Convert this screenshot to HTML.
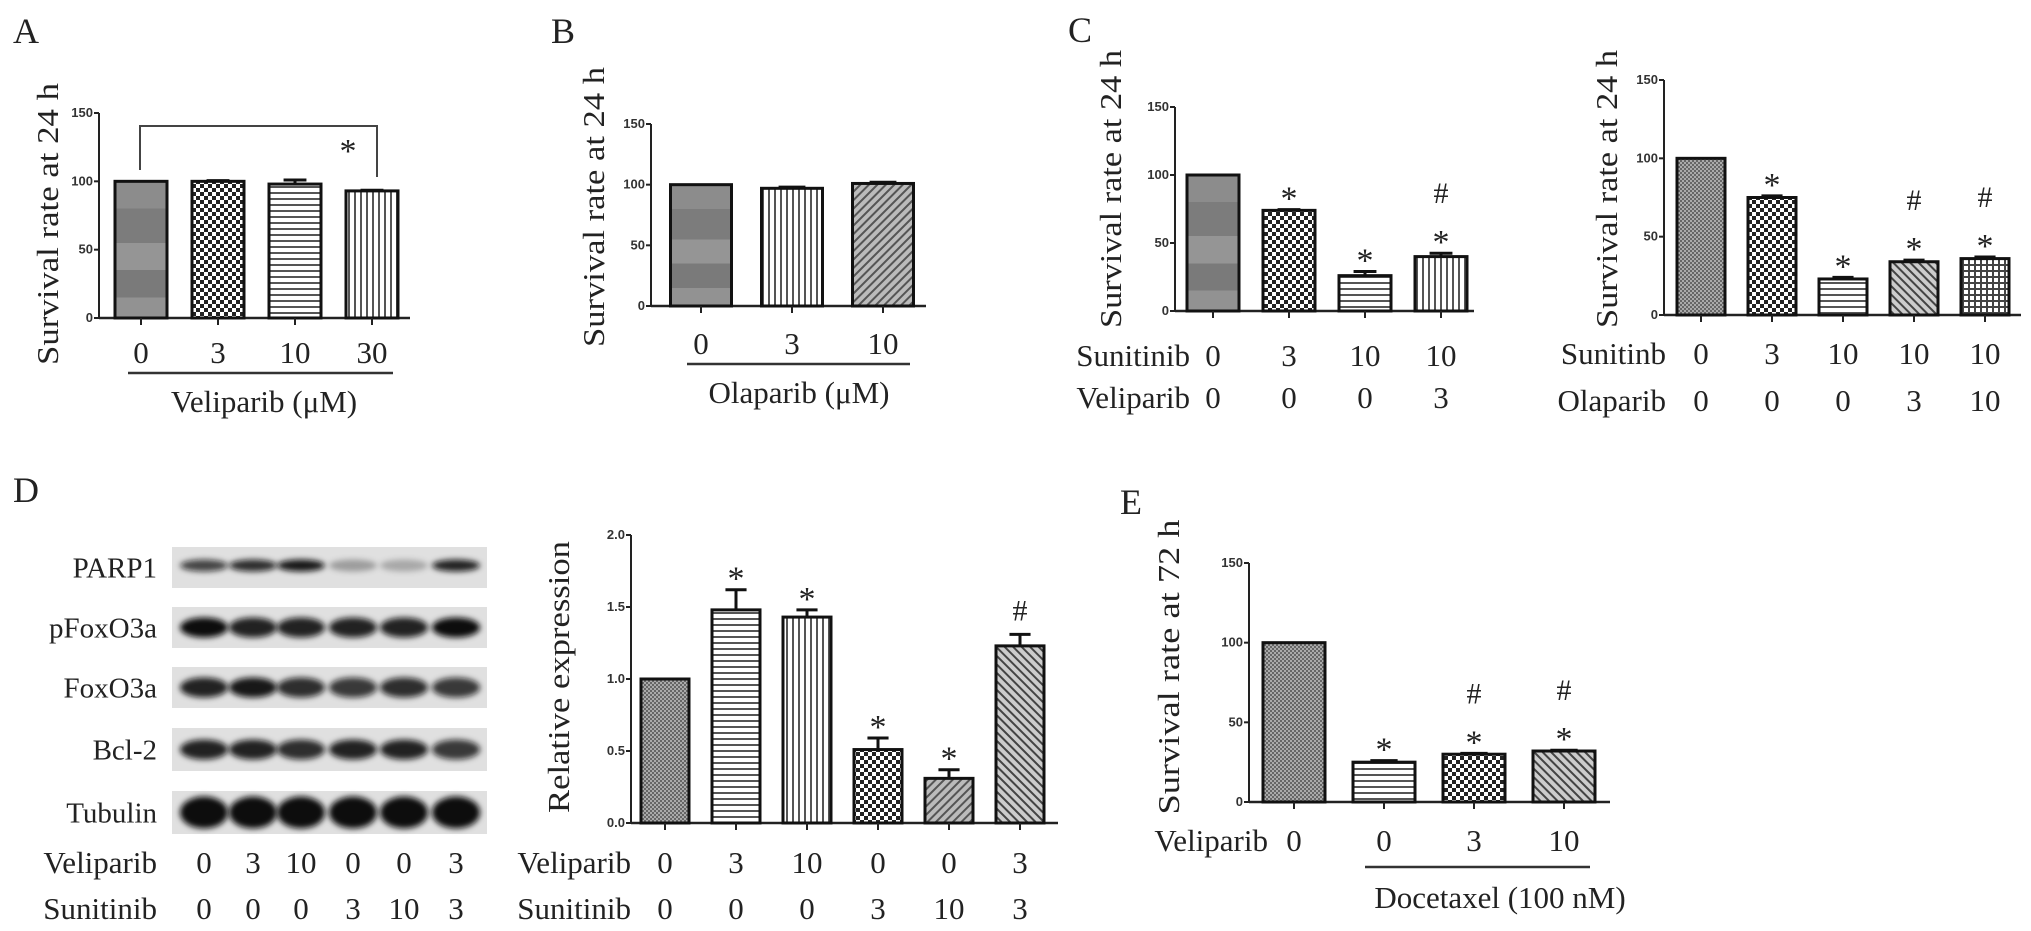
<!DOCTYPE html>
<html><head><meta charset="utf-8"><style>
html,body{margin:0;padding:0;background:#fff;}
svg{display:block;}
text{font-family:"Liberation Serif",serif;fill:#222;}
.tk{font-family:"Liberation Sans",sans-serif;font-weight:bold;font-size:13px;fill:#333;}
</style></head><body>
<svg id="fig" width="2031" height="931" viewBox="0 0 2031 931" xmlns="http://www.w3.org/2000/svg">
<defs>
<linearGradient id="gband" x1="0" y1="0" x2="0" y2="1">
<stop offset="0" stop-color="#8c8c8c"/><stop offset="0.2" stop-color="#8c8c8c"/><stop offset="0.2" stop-color="#7c7c7c"/><stop offset="0.45" stop-color="#7c7c7c"/><stop offset="0.45" stop-color="#959595"/><stop offset="0.65" stop-color="#959595"/><stop offset="0.65" stop-color="#7a7a7a"/><stop offset="0.85" stop-color="#7a7a7a"/><stop offset="0.85" stop-color="#929292"/><stop offset="1" stop-color="#929292"/>
</linearGradient>
<pattern id="checker" width="8" height="8" patternUnits="userSpaceOnUse"><rect width="8" height="8" fill="#fff"/><rect width="4" height="4" fill="#222"/><rect x="4" y="4" width="4" height="4" fill="#222"/></pattern>
<pattern id="fchk" width="4" height="4" patternUnits="userSpaceOnUse"><rect width="4" height="4" fill="#aaa"/><rect width="2" height="2" fill="#666"/><rect x="2" y="2" width="2" height="2" fill="#666"/></pattern>
<pattern id="hl" width="6" height="6" patternUnits="userSpaceOnUse"><rect width="6" height="6" fill="#fff"/><rect y="0" width="6" height="2" fill="#555"/></pattern>
<pattern id="vl" width="6" height="6" patternUnits="userSpaceOnUse"><rect width="6" height="6" fill="#fff"/><rect x="0" width="2" height="6" fill="#555"/></pattern>
<pattern id="dg" width="6" height="6" patternUnits="userSpaceOnUse" patternTransform="rotate(45)"><rect width="6" height="6" fill="#bbb"/><rect width="2" height="6" fill="#555"/></pattern>
<pattern id="dgb" width="6" height="6" patternUnits="userSpaceOnUse" patternTransform="rotate(-45)"><rect width="6" height="6" fill="#ccc"/><rect width="2" height="6" fill="#444"/></pattern>
<pattern id="grid" width="6" height="6" patternUnits="userSpaceOnUse"><rect width="6" height="6" fill="#fff"/><rect width="6" height="2" fill="#444"/><rect width="2" height="6" fill="#444"/></pattern>
<filter id="blur" x="-20%" y="-50%" width="140%" height="200%"><feGaussianBlur stdDeviation="3"/></filter>
</defs>
<g id="root"></g>
</svg>
<script>
// ---- data ----
const aCats=['0','3','10','30'];
const aVals=[100,100,98,93];
const aErr=[0,0.5,3,0.5];
const bCats=['0','3','10'];
const bVals=[100,97,101];
const bErr=[0,1,1];
const c1Vals=[100,74,26,40];
const c1Err=[0,0.5,3,2.5];
const c1Sun=['0','3','10','10'];
const c1Vel=['0','0','0','3'];
const c1Marks=['','*','*','#*'];
const c2Vals=[100,75,23,34,36];
const c2Err=[0,1,1,1,1];
const c2Sun=['0','3','10','10','10'];
const c2Ola=['0','0','0','3','10'];
const c2Marks=['','*','*','#*','#*'];
const dVals=[1.0,1.48,1.43,0.51,0.31,1.23];
const dErr=[0,0.14,0.05,0.08,0.06,0.08];
const dVel=['0','3','10','0','0','3'];
const dSun=['0','0','0','3','10','3'];
const dMarks=['','*','*','*','*','#'];
const eVals=[100,25,30,32];
const eErr=[0,1,0.5,0.5];
const eVel=['0','0','3','10'];
const eMarks=['','*','#*','#*'];
const survTicks=[0,50,100,150];
const dTicks=[0,0.5,1.0,1.5,2.0];
const blotRows=['PARP1','pFoxO3a','FoxO3a','Bcl-2','Tubulin'];
const blotIntensity=[[0.75,0.85,0.95,0.3,0.25,0.9],[1,0.9,0.9,0.9,0.9,1],[0.9,0.95,0.85,0.8,0.85,0.8],[0.9,0.9,0.85,0.9,0.9,0.8],[1,1,1,1,1,1]];

const NS='http://www.w3.org/2000/svg';
const root=document.getElementById('root');
function el(tag,attrs,parent,txt){const e=document.createElementNS(NS,tag);for(const k in attrs)e.setAttribute(k,attrs[k]);if(txt!==undefined)e.textContent=txt;(parent||root).appendChild(e);return e;}

function chart(o){
  const g=el('g',{});
  
  
  const ys=v=>o.y0-(v-o.ticks[0])/(o.ticks[o.ticks.length-1]-o.ticks[0])*(o.y0-o.yTop);
  const xs=i=>o.c0+i*o.step;
  const ax=el('line',{x1:o.ax,y1:o.yTop,x2:o.ax,y2:o.y0,stroke:'#222','stroke-width':2},g);
  
  
  const xa=el('line',{x1:o.ax,y1:o.y0,x2:o.xEnd,y2:o.y0,stroke:'#222','stroke-width':2.5},g);
  
  
  o.ticks.forEach(t=>{
    el('line',{x1:o.ax-5,y1:ys(t),x2:o.ax,y2:ys(t),stroke:'#222','stroke-width':2},g);
    const tl=el('text',{x:o.ax-6,y:ys(t)+4,'text-anchor':'end',class:'tk'},g,o.fmt?o.fmt(t):String(t));
    
    
  });
  o.vals.forEach((v,i)=>{
    const x=xs(i),w=o.bw,y=ys(v);
    const r=el('rect',{x:x-w/2,y:y,width:w,height:o.y0-y,fill:o.fills[i],stroke:'#111','stroke-width':3},g);
    
    
    const e=o.err[i];
    if(e>0){const ye=ys(v+e);
      el('line',{x1:x,y1:y,x2:x,y2:ye,stroke:'#111','stroke-width':3},g);
      el('line',{x1:x-w*0.22,y1:ye,x2:x+w*0.22,y2:ye,stroke:'#111','stroke-width':3},g);}
    el('line',{x1:x,y1:o.y0,x2:x,y2:o.y0+7,stroke:'#222','stroke-width':2},g);
    if(o.marks&&o.marks[i]){
      const m=o.marks[i];let yy=ys(v+e)-14;
      for(let k=m.length-1;k>=0;k--){
        const ch=m[k];
        const s=el('text',{x:x,y:ch==='*'?yy+14:yy,'text-anchor':'middle','font-size':ch==='*'?34:30,fill:'#555'},g,ch);
        
        
        yy-=36;
      }
    }
    (o.rows||[]).forEach(rw=>{
      const t=el('text',{x:x,y:rw.y+11,'text-anchor':'middle','font-size':31},g,rw.arr[i]);
      
      
    });
  });
  (o.rows||[]).forEach(rw=>{if(rw.label){
    const t=el('text',{x:rw.lx,y:rw.y+11,'text-anchor':'end','font-size':31},g,rw.label);
    
    }});
  const yl=el('text',{x:0,y:0,transform:`translate(${o.ylx},${o.yly}) rotate(-90)`,'text-anchor':'middle','font-size':31,textLength:o.ylLen,lengthAdjust:'spacingAndGlyphs'},g,o.ylabel);
  
  
  return {g,xs,ys};
}
function label(txt,x,y,size,name,anchor){const t=el('text',{x:x,y:y,'font-size':size,'text-anchor':anchor||'start'},root,txt);return t;}
function uline(x1,x2,y,name){const l=el('line',{x1:x1,y1:y,x2:x2,y2:y,stroke:'#333','stroke-width':2.5});}

label('A',13,43,36,'panel-label-a');
label('B',551,43,36,'panel-label-b');
label('C',1068,42,36,'panel-label-c');
label('D',13,502,36,'panel-label-d');
label('E',1120,514,36,'panel-label-e');

chart({name:'chart-a',vals:aVals,err:aErr,ticks:survTicks,ax:99,y0:318,yTop:113,c0:141,step:77,bw:52,xEnd:410,
  fills:['url(#gband)','url(#checker)','url(#hl)','url(#vl)'],rows:[{y:352,arr:aCats}],ylabel:'Survival rate at 24 h',ylx:58,yly:224,ylLen:282});
const br=el('path',{d:'M140 170 L140 126 L377 126 L377 177',fill:'none',stroke:'#444','stroke-width':2});


label('*',348,162,34,'significance-star','middle');
uline(128,393,373,'veliparib-underline');
label('Veliparib (μM)',264,412,31,'x-axis-title','middle');

chart({name:'chart-b',vals:bVals,err:bErr,ticks:survTicks,ax:651,y0:306,yTop:124,c0:701,step:91,bw:61,xEnd:926,
  fills:['url(#gband)','url(#vl)','url(#dg)'],rows:[{y:343,arr:bCats}],ylabel:'Survival rate at 24 h',ylx:604,yly:207,ylLen:280});
uline(687,910,364,'olaparib-underline');
label('Olaparib (μM)',799,403,31,'x-axis-title','middle');

chart({name:'chart-c-veliparib',vals:c1Vals,err:c1Err,ticks:survTicks,ax:1175,y0:311,yTop:107,c0:1213,step:76,bw:52,xEnd:1474,marks:c1Marks,
  fills:['url(#gband)','url(#checker)','url(#hl)','url(#vl)'],
  rows:[{y:355,arr:c1Sun,label:'Sunitinib',lx:1190},{y:397,arr:c1Vel,label:'Veliparib',lx:1190}],ylabel:'Survival rate at 24 h',ylx:1121,yly:189,ylLen:278});

chart({name:'chart-c-olaparib',vals:c2Vals,err:c2Err,ticks:survTicks,ax:1664,y0:315,yTop:80,c0:1701,step:71,bw:48,xEnd:2021,marks:c2Marks,
  fills:['url(#fchk)','url(#checker)','url(#hl)','url(#dgb)','url(#grid)'],
  rows:[{y:353,arr:c2Sun,label:'Sunitinb',lx:1666},{y:400,arr:c2Ola,label:'Olaparib',lx:1666}],ylabel:'Survival rate at 24 h',ylx:1617,yly:189,ylLen:278});

const blot=el('g',{});


const rowY=[547,607,667,728,791];
const rowH=[41,41,41,43,43];
const lanes=[204,253,301,353,404,456];
blotRows.forEach((r,ri)=>{
  const bg=el('rect',{x:172,y:rowY[ri],width:315,height:rowH[ri],fill:'#e0e0e0'},blot);
  
  
  lanes.forEach((lx,li)=>{
    const a=blotIntensity[ri][li];
    const h=ri===4?16:(ri===0?6:10);
    el('ellipse',{cx:lx,cy:rowY[ri]+rowH[ri]/2+(ri===0?-2:0),rx:24,ry:h,fill:'#111','fill-opacity':a,filter:'url(#blur)'},blot);
  });
  const t=el('text',{x:157,y:rowY[ri]+rowH[ri]/2+10,'text-anchor':'end','font-size':29},root,r);
  
  
});
const blotX=[204,253,301,353,404,456];
label('Veliparib',157,873,31,'row-label-veliparib','end');
label('Sunitinib',157,919,31,'row-label-sunitinib','end');
dVel.forEach((v,i)=>label(v,blotX[i],873,31,'blot-lane-label','middle'));
dSun.forEach((v,i)=>label(v,blotX[i],919,31,'blot-lane-label','middle'));

chart({name:'chart-d',vals:dVals,err:dErr,ticks:dTicks,fmt:t=>t.toFixed(1),ax:631,y0:823,yTop:535,c0:665,step:71,bw:48,xEnd:1058,marks:dMarks,
  fills:['url(#fchk)','url(#hl)','url(#vl)','url(#checker)','url(#dg)','url(#dgb)'],
  rows:[{y:862,arr:dVel,label:'Veliparib',lx:631},{y:908,arr:dSun,label:'Sunitinib',lx:631}],ylabel:'Relative expression',ylx:569,yly:677,ylLen:272});

chart({name:'chart-e',vals:eVals,err:eErr,ticks:survTicks,ax:1249,y0:802,yTop:563,c0:1294,step:90,bw:62,xEnd:1610,marks:eMarks,
  fills:['url(#fchk)','url(#hl)','url(#checker)','url(#dgb)'],
  rows:[{y:840,arr:eVel,label:'Veliparib',lx:1268}],ylabel:'Survival rate  at 72 h',ylx:1179,yly:667,ylLen:295});
uline(1365,1590,867,'docetaxel-underline');
label('Docetaxel (100 nM)',1500,908,31,'x-axis-title-docetaxel','middle');
</script>
</body></html>
